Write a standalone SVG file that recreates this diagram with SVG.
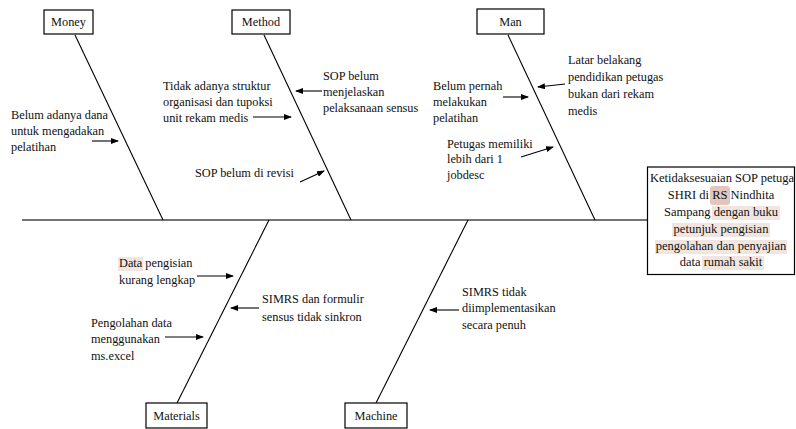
<svg xmlns="http://www.w3.org/2000/svg" width="796" height="429" viewBox="0 0 796 429" font-family="'Liberation Serif', 'DejaVu Serif', serif">
<style>
.box{fill:#fff;stroke:#000;stroke-width:1.2}
.bone{stroke:#000;stroke-width:1.1;fill:none}
.spine{stroke:#444;stroke-width:1.5;fill:none}
.arr{stroke:#000;stroke-width:1.1;fill:none;marker-end:url(#ah)}
text{font-family:'Liberation Serif','Times New Roman',serif;font-size:12.3px;fill:#111}
.lbl{text-anchor:middle}
.eff{font-size:12.5px;text-anchor:middle}
.hl{fill:#f1e6df}
.hl2{fill:#e3c6bb}
</style>
<defs>
<marker id="ah" markerWidth="8" markerHeight="6" refX="7" refY="3" orient="auto" markerUnits="userSpaceOnUse">
<path d="M0,0 L8,3 L0,6 Z" fill="#000"/>
</marker>
<clipPath id="effclip"><rect x="648" y="166" width="147" height="108"/></clipPath>
</defs>

<g id="connectors">
<line class="spine" x1="22" y1="220" x2="648" y2="220"/>
<line class="bone" x1="75" y1="35" x2="163" y2="220"/>
<line class="bone" x1="264" y1="35" x2="351" y2="220"/>
<line class="bone" x1="508" y1="35" x2="595" y2="220"/>
<line class="bone" x1="269" y1="220" x2="177" y2="403"/>
<line class="bone" x1="468" y1="220" x2="376" y2="403"/>
<line class="arr" x1="92" y1="141" x2="118" y2="141"/>
<line class="arr" x1="253" y1="117" x2="291" y2="117"/>
<line class="arr" x1="322" y1="91" x2="296" y2="91"/>
<line class="arr" x1="300" y1="182" x2="324" y2="171"/>
<line class="arr" x1="503" y1="97" x2="528" y2="97"/>
<line class="arr" x1="565" y1="84" x2="538" y2="87"/>
<line class="arr" x1="521" y1="157" x2="553" y2="147"/>
<line class="arr" x1="197" y1="276" x2="233" y2="276"/>
<line class="arr" x1="259" y1="308" x2="231" y2="308"/>
<line class="arr" x1="165" y1="337" x2="203" y2="337"/>
<line class="arr" x1="459" y1="310" x2="430" y2="310"/>
</g>

<g id="money">
<rect class="box" x="44" y="10" width="49" height="24"/>
<text class="lbl" x="68.5" y="26">Money</text>
<text x="11" y="119">Belum adanya dana</text>
<text x="11" y="135">untuk mengadakan</text>
<text x="11" y="151">pelatihan</text>
</g>

<g id="method">
<rect class="box" x="232" y="10" width="58" height="24"/>
<text class="lbl" x="261" y="26">Method</text>
<text x="163" y="90">Tidak adanya struktur</text>
<text x="163" y="106">organisasi dan tupoksi</text>
<text x="163" y="122">unit rekam medis</text>
<text x="323" y="80">SOP belum</text>
<text x="323" y="96">menjelaskan</text>
<text x="323" y="112">pelaksanaan sensus</text>
<text x="195" y="177">SOP belum di revisi</text>
</g>

<g id="man">
<rect class="box" x="477" y="9" width="67" height="25"/>
<text class="lbl" x="510.5" y="26">Man</text>
<text x="433" y="90">Belum pernah</text>
<text x="433" y="106">melakukan</text>
<text x="433" y="122">pelatihan</text>
<text x="568" y="64">Latar belakang</text>
<text x="568" y="81">pendidikan petugas</text>
<text x="568" y="98">bukan dari rekam</text>
<text x="568" y="115">medis</text>
<text x="447" y="148">Petugas memiliki</text>
<text x="447" y="163">lebih dari 1</text>
<text x="447" y="179">jobdesc</text>
</g>

<g id="effect">
<rect class="box" x="647.5" y="167" width="147" height="107.5"/>
<g clip-path="url(#effclip)">
<rect class="hl2" x="710" y="186" width="20" height="19" rx="3"/>
<rect class="hl" x="712" y="206" width="68" height="14"/>
<rect class="hl" x="672" y="223" width="98" height="14"/>
<rect class="hl" x="655" y="240" width="132" height="14"/>
<rect class="hl" x="702" y="256" width="62" height="14"/>
<text x="650" y="182" style="font-size:12.5px">Ketidaksesuaian SOP petuga</text>
<text class="eff" x="721" y="199">SHRI di RS Nindhita</text>
<text class="eff" x="721" y="216">Sampang dengan buku</text>
<text class="eff" x="721" y="233">petunjuk pengisian</text>
<text class="eff" x="721" y="250">pengolahan dan penyajian</text>
<text class="eff" x="721" y="266">data rumah sakit</text>
</g>
</g>

<g id="materials">
<rect class="box" x="146" y="403" width="61" height="25"/>
<text class="lbl" x="176.5" y="420">Materials</text>
<rect class="hl" x="118" y="257" width="25" height="14"/>
<text x="119" y="267">Data pengisian</text>
<text x="119" y="284">kurang lengkap</text>
<text x="262" y="303">SIMRS dan formulir</text>
<text x="262" y="321">sensus tidak sinkron</text>
<text x="91" y="327">Pengolahan data</text>
<text x="91" y="343">menggunakan</text>
<text x="91" y="360">ms.excel</text>
</g>

<g id="machine">
<rect class="box" x="345" y="403" width="62" height="25"/>
<text class="lbl" x="376" y="420">Machine</text>
<text x="462" y="296">SIMRS tidak</text>
<text x="462" y="312">diimplementasikan</text>
<text x="462" y="329">secara penuh</text>
</g>
</svg>
